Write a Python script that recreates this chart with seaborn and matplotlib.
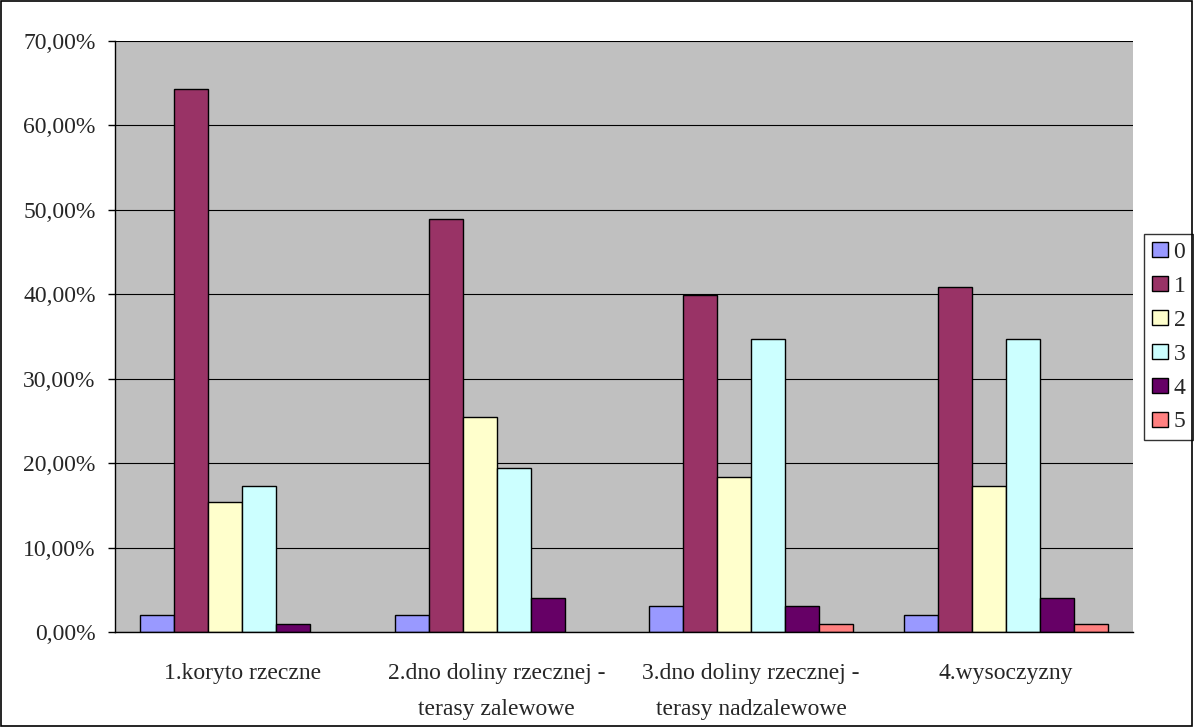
import pandas as pd
import numpy as np
import seaborn as sns
import matplotlib.pyplot as plt
from matplotlib.ticker import FuncFormatter
from matplotlib.patches import Rectangle, Patch

# dane (procenty)
kategorie = ['1.koryto rzeczne', '2.dno doliny rzecznej -\nterasy zalewowe',
             '3.dno doliny rzecznej -\nterasy nadzalewowe', '4.wysoczyzny']
klasy = ['0', '1', '2', '3', '4', '5']
klasa_0 = [2.0, 2.0, 3.1, 2.0]
klasa_1 = [64.3, 48.9, 39.9, 40.9]
klasa_2 = [15.4, 25.5, 18.4, 17.3]
klasa_3 = [17.3, 19.4, 34.7, 34.7]
klasa_4 = [1.0, 4.0, 3.1, 4.0]
klasa_5 = [0.0, 0.0, 1.0, 1.0]
kolory = ['#9999FF', '#993366', '#FFFFCC', '#CCFFFF', '#660066', '#FF8080']

#%%
wartosci = [klasa_0, klasa_1, klasa_2, klasa_3, klasa_4, klasa_5]
df = pd.DataFrame({
    'kategoria': np.repeat([kategorie], len(klasy), axis=0).ravel(),
    'klasa': np.repeat(klasy, len(kategorie)),
    'procent': np.ravel(wartosci),
})

sns.set_style('white')
plt.rcParams['font.family'] = ['Liberation Serif', 'DejaVu Serif']

fig = plt.figure(figsize=(11.94, 7.27), dpi=100)
ax = fig.add_axes([115 / 1194, 1 - 632 / 727, (1133 - 115) / 1194, (632 - 41) / 727])

sns.barplot(data=df, x='kategoria', y='procent', hue='klasa', palette=kolory,
            saturation=1, width=0.8, edgecolor='black', linewidth=1, ax=ax, legend=False)

# słupki o wartości 0 nie są rysowane
for p in ax.patches:
    if p.get_height() == 0:
        p.set_visible(False)

ax.set_facecolor('#C0C0C0')
ax.set_ylim(0, 70)
ax.set_xlim(-0.5, 3.5)
ax.set_yticks(np.arange(0, 71, 10))
ax.yaxis.set_major_formatter(FuncFormatter(lambda v, p: f'{v:.2f}%'.replace('.', ',')))
ax.yaxis.grid(True, color='black', linewidth=0.8)
ax.set_axisbelow(True)
ax.set_xlabel('')
ax.set_ylabel('')

# ticki osi x na granicach kategorii
ax.set_xticks([0, 1, 2, 3])
ax.set_xticklabels(kategorie, fontsize=17, linespacing=1.95)
ax.set_xticks([-0.5, 0.5, 1.5, 2.5, 3.5], minor=True)
ax.tick_params(axis='x', which='major', length=0, pad=22)
ax.tick_params(axis='x', which='minor', length=6.5, width=1, color='black', direction='out')
ax.tick_params(axis='y', length=5, width=1, color='black', direction='out',
               labelsize=17, pad=9, left=True)

for s in ['left', 'bottom']:
    ax.spines[s].set_color('black')
    ax.spines[s].set_linewidth(1)
ax.spines['top'].set_visible(False)
ax.spines['right'].set_visible(False)

uchwyty = [Patch(facecolor=k, edgecolor='black', linewidth=1) for k in kolory]
leg = ax.legend(uchwyty, klasy, loc='upper left', bbox_to_anchor=(1144 / 1194, 1 - 234 / 727),
                bbox_transform=fig.transFigure, frameon=True, fancybox=False,
                fontsize=17, handlelength=0.68, handleheight=0.6, handletextpad=0.25,
                labelspacing=0.55, borderpad=0.32, borderaxespad=0)
leg.get_frame().set_edgecolor('black')
leg.get_frame().set_linewidth(1)

# ramka całego obrazka
fig.patches.append(Rectangle((0.001, 0.001), 0.997, 0.997, transform=fig.transFigure,
                             fill=False, edgecolor='black', linewidth=1.2))

fig.savefig('out.png', dpi=100)
